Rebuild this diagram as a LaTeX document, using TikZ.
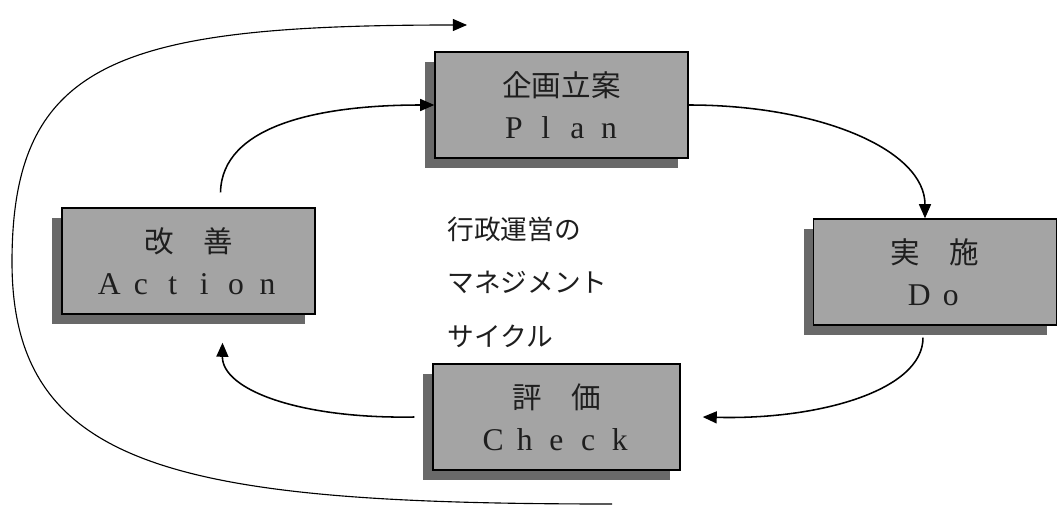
\documentclass[tikz,border=0pt]{standalone}
\usepackage{fontspec}
\setmainfont{Liberation Serif}
\newfontfamily\jp{Noto Sans CJK JP}
\usetikzlibrary{arrows.meta,shadows}
\definecolor{boxgray}{RGB}{164,164,164}
\definecolor{shadowgray}{RGB}{105,105,105}
\definecolor{inkgray}{RGB}{30,30,30}
\makeatletter
\def\fwtext#1{\fw@loop#1\@nil}
\def\fw@loop#1{\ifx#1\@nil\else\makebox[1em][c]{#1}\expandafter\fw@loop\fi}
\makeatother
\tikzset{
  pdcabox/.style={draw=black, line width=1pt, fill=boxgray, text=inkgray,
    minimum height=106*0.025cm, inner sep=0pt, align=center,
    font=\jp\fontsize{21}{30}\selectfont,
    drop shadow={shadow xshift=-0.25cm, shadow yshift=-0.25cm, fill=shadowgray, opacity=1}},
  arr/.style={draw=black, line width=1.1pt, -{Triangle[length=10pt,width=8.5pt]}},
  outerarr/.style={draw=black, line width=0.8pt, -{Triangle[length=10pt,width=8.5pt]}},
  centertext/.style={font=\jp\fontsize{19}{38}\selectfont, text=inkgray, align=left, inner sep=0pt}
}
\newcommand\latin[1]{{\rmfamily\fontsize{22.5}{30}\selectfont\fwtext{#1}}}
\begin{document}
\begin{tikzpicture}[x=0.025cm, y=-0.025cm]
\useasboundingbox (0,0) rectangle (1059,513);
\fill[white] (0,0) rectangle (1059,513);
% boxes
\node[pdcabox, minimum width=253*0.025cm] (plan) at (561.5,105) {企画立案\\\latin{Plan}};
\node[pdcabox, minimum width=243*0.025cm] (do) at (935,272) {実　施\\\latin{Do}};
\node[pdcabox, minimum width=247*0.025cm] (check) at (556.5,417) {評　価\\\latin{Check}};
\node[pdcabox, minimum width=253*0.025cm] (act) at (188.5,261) {改　善\\\latin{Action}};
% centre text
\node[centertext, anchor=west] (ctr) at (447,282) {行政運営の\\マネジメント\\サイクル};
% free ends
\coordinate (apS) at ([xshift=0.8cm,yshift=0.375cm]act.north);
\coordinate (doIn) at ([xshift=-0.25cm]do.north);
\coordinate (dcS) at ([xshift=-0.3cm,yshift=-0.3cm]do.south);
\coordinate (chIn) at ([xshift=0.55cm]check.east);
\coordinate (caS) at ([xshift=-0.45cm]check.west);
\coordinate (acIn) at ([xshift=0.85cm,yshift=-0.7cm]act.south);
\coordinate (oS) at (612,504);
\coordinate (oM) at (12,262);
\coordinate (oE) at (467,25);
% cycle arrows
\draw[arr] (apS) .. controls (222,125) and (320,105) .. (plan.west);
\draw[arr] (plan.east) .. controls (820,105) and (925,150) .. (doIn);
\draw[arr] (dcS) .. controls (923,390) and (820,420) .. (chIn);
\draw[arr] (caS) .. controls (300,419) and (222,390) .. (acIn);
% outer arrow
\draw[outerarr] (oS) .. controls (180,504) and (12,470) .. (oM) .. controls (12,60) and (120,25) .. (oE);
\end{tikzpicture}
\end{document}
